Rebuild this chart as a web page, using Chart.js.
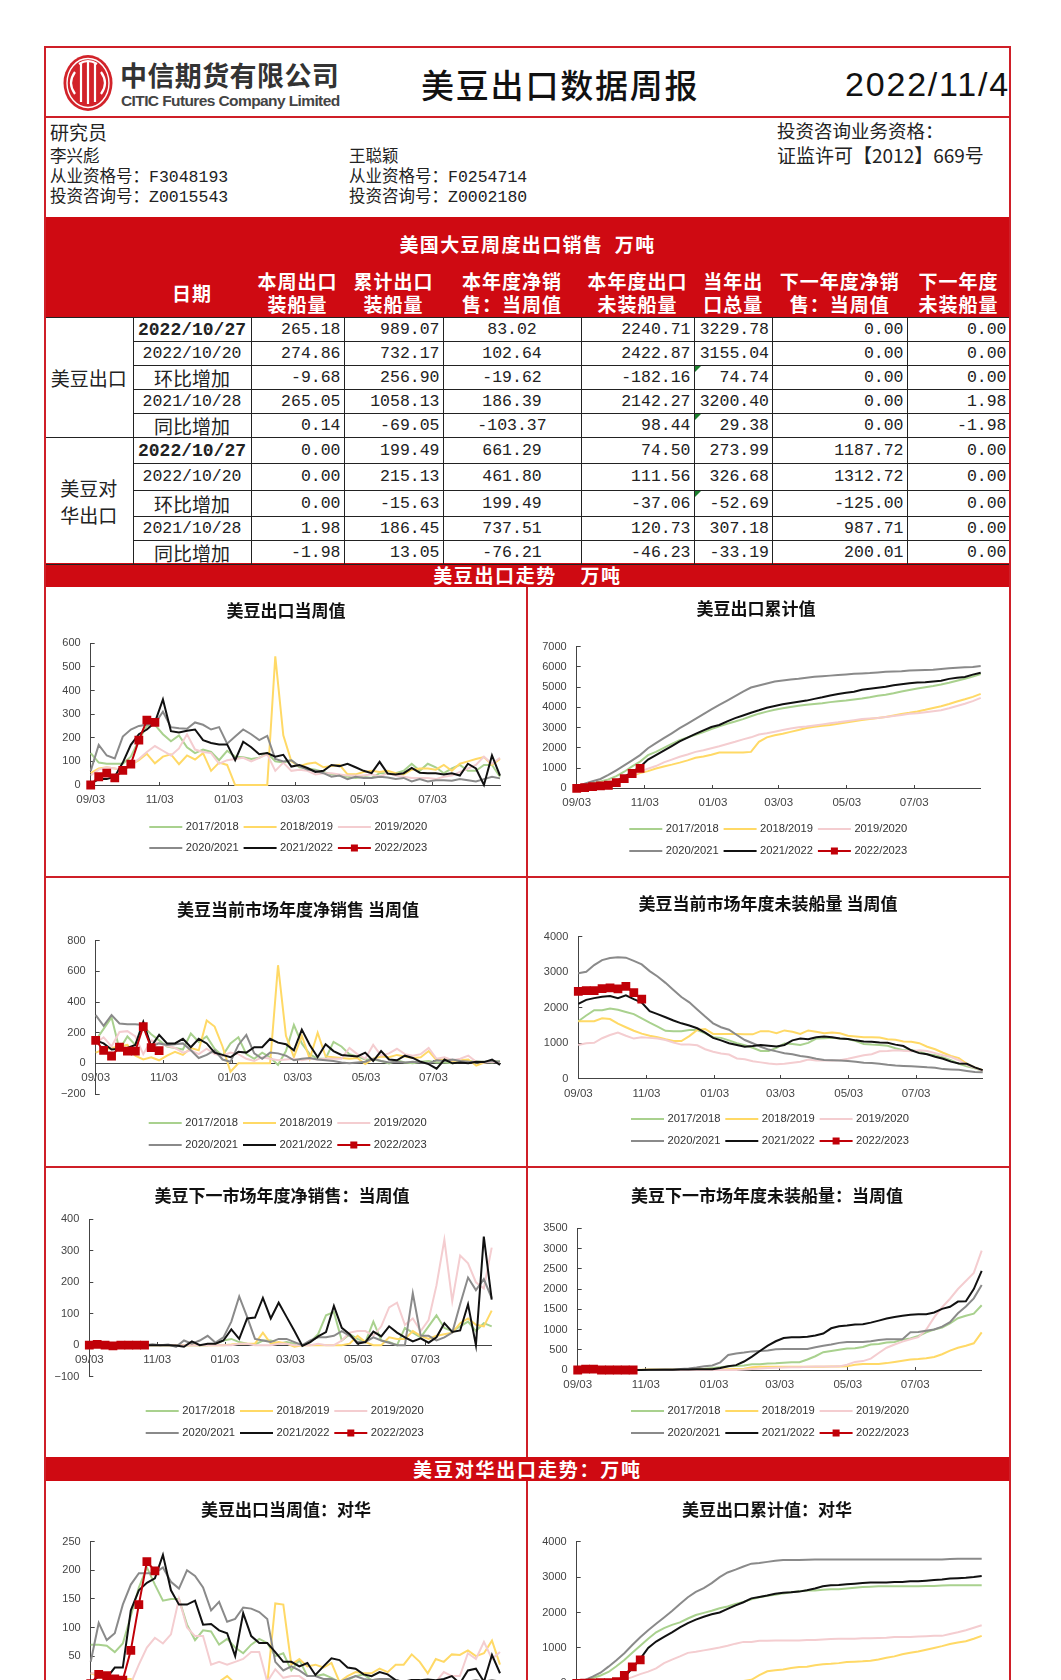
<!DOCTYPE html>
<html lang="zh">
<head>
<meta charset="utf-8">
<title>美豆出口数据周报</title>
<script src="https://cdn.jsdelivr.net/npm/chart.js@4/dist/chart.umd.min.js"></script>
<style>
  html, body { margin: 0; padding: 0; width: 1061px; height: 1680px; overflow: hidden; background: #fff; }
  body { position: relative; font-family: "Noto Sans CJK SC", sans-serif; color: #222; }
  .abs { position: absolute; white-space: pre; line-height: 1; }
  .vmid { transform: translateY(-50%); }
  .band { position: absolute; left: 44px; width: 967px; background: #cf0a12; color: #fff; font-weight: 700; text-align: center; white-space: pre; }
  .rule { position: absolute; background: #cf1f28; }
  canvas { position: absolute; }
  table { position: absolute; left: 45px; top: 317px; border-collapse: collapse; table-layout: fixed; width: 965px; }
  td { border: 1px solid #222; padding: 0 3px 0 0; text-align: right; font-family: "Liberation Mono", monospace; font-size: 16.5px; line-height: 18px; position: relative; overflow: hidden; }
  td.c { text-align: center; padding: 0; }
  td.date { text-align: center; padding: 0; white-space: nowrap; }
  td.date.bold { font-weight: 700; font-size: 18px; }
  td.zh { font-family: "Noto Sans CJK SC", sans-serif; font-size: 19px; text-align: center; padding: 0; }
  td.name { line-height: 27px; border-left: 0; }
  td.flag::before { content: ""; position: absolute; left: 0; top: 0; border-top: 6px solid #1a7f2c; border-right: 6px solid transparent; }
  .hcell { position: absolute; color: #fff; font-weight: 700; font-size: 19px; text-align: center; line-height: 23px; letter-spacing: 1px; white-space: pre; }
</style>
</head>
<body>
<script>
// ---------- Data: seasons and axis ----------
const seasons = ["2017/2018", "2018/2019", "2019/2020", "2020/2021", "2021/2022", "2022/2023"];
const seasonColors = ["#a9d18e", "#ffd966", "#f4cdd0", "#8a8a8a", "#111111", "#c00008"];
const monthTicks = [0, 8.6, 17.2, 25.5, 34.1, 42.6];
const monthLabels = ["09/03", "11/03", "01/03", "03/03", "05/03", "07/03"];

// 美豆出口当周值
const weekly1718 = [135,95,90,90,90,120,190,250,255,215, 185,210,160,135,150,140,105,145,120,118, 110,115,135,100,95,105,75,70,65,55, 45,40,35,30,35,30,50,50,50,60, 90,60,90,75,50,70,85,60,60,85,85,35];
const weekly1819 = [50,70,75,70,60,85,105,132,92,120, 130,88,125,108,135,60,95,85,0,0, 0,0,0,545,210,100,80,90,95,75, 80,85,45,45,55,60,55,60,50,45, 65,70,70,65,85,60,90,100,110,118,85,110];
const weekly1920 = [40,65,75,70,65,85,110,140,165,145, 125,155,215,150,140,135,90,105,110,115, 100,115,130,60,95,60,65,60,45,50, 50,45,40,40,40,45,35,50,40,35, 30,30,30,25,35,40,55,70,85,120,90,115];
const weekly2021 = [60,170,125,112,205,235,250,255,260,310, 245,240,238,265,255,235,245,175,205,235, 215,190,208,110,100,105,80,65,60,50, 35,40,25,35,30,30,35,32,25,30, 15,25,15,20,20,18,25,20,15,25,35,28];
const weekly2122 = [5,25,25,35,95,170,215,235,265,362, 228,222,230,235,190,178,172,172,105,183, 160,130,135,120,128,78,85,72,55,60, 85,80,90,75,60,50,98,48,45,50, 72,52,50,50,45,50,40,90,70,0,125,40];
const weekly2223 = [0,35,50,30,62,88,190,274.86,265.18];

// 美豆出口累计值
const cum1718 = [50,150,250,340,440,600,820,1080,1320,1640, 1800,2000,2200,2380,2520,2650,2780,2930,3060,3190, 3300,3420,3560,3690,3790,3880,3960,4020,4080,4130, 4170,4210,4260,4300,4340,4390,4440,4500,4570,4620, 4700,4790,4860,4930,5000,5060,5130,5220,5320,5420,5530,5650];
const cum1819 = [50,120,200,270,330,410,510,620,750,850, 980,1080,1170,1270,1380,1510,1570,1660,1770,1770, 1770,1770,1800,2300,2520,2620,2700,2790,2880,2980, 3040,3090,3130,3190,3250,3310,3370,3430,3480,3530, 3600,3670,3730,3800,3880,3970,4060,4170,4290,4400,4520,4670];
const cum1920 = [40,110,190,260,320,410,520,660,830,970, 1100,1280,1420,1560,1670,1800,1880,1980,2080,2190, 2300,2420,2520,2660,2720,2800,2880,2960,3020,3060, 3110,3160,3210,3260,3320,3370,3420,3450,3480,3520, 3570,3620,3680,3710,3760,3810,3860,3960,4070,4180,4310,4470];
const cum2021 = [60,230,350,460,660,890,1130,1380,1640,1980, 2230,2480,2720,2970,3200,3430,3670,3900,4120,4340, 4560,4780,4980,5080,5180,5280,5330,5380,5420,5470, 5510,5540,5570,5600,5630,5660,5680,5700,5730,5760, 5780,5790,5820,5840,5850,5860,5900,5930,5960,5980,6000,6050];
const cum2122 = [5,30,60,100,190,350,560,800,1058,1420, 1640,1860,2090,2320,2510,2690,2860,3030,3130,3310, 3470,3600,3735,3855,3985,4065,4150,4220,4275,4335, 4420,4500,4590,4665,4725,4775,4875,4925,4970,5015, 5090,5140,5190,5225,5240,5280,5320,5410,5470,5500,5620,5710];
const cum2223 = [0,30,80,120,150,280,480,732.17,989.07];

// 美豆当前市场年度净销售 当周值
const net1718 = [150,225,300,90,175,120,240,190,150,110, 100,90,195,140,175,95,50,130,170,60, 30,70,40,-10,80,250,130,60,30,30, 140,110,60,45,25,25,15,0,20,5, 0,10,15,5,5,0,10,15,10,10,5,15];
const net1819 = [70,90,100,110,120,50,25,40,20,50, 75,55,100,85,280,240,110,-55,0,0, 0,0,0,640,180,40,180,30,200,45, 40,35,30,35,-5,30,45,40,55,45, 35,40,80,20,25,15,20,25,-15,5,15,5];
const net1920 = [130,170,110,205,210,175,60,150,130,115, 100,70,85,60,95,60,50,70,60,30, 15,40,30,20,25,30,20,30,25,30, 30,30,100,60,30,120,50,65,95,60, 50,60,100,30,40,20,30,50,10,5,10,5];
const net2021 = [315,245,315,260,255,255,250,110,130,120, 125,130,85,35,55,85,25,10,120,185, 65,30,70,65,50,20,30,35,25,20, 15,5,0,5,10,30,15,5,10,5, 10,5,0,20,15,25,15,10,5,10,15,10];
const net2122 = [150,130,90,95,100,120,270,110,186,130, 130,160,105,160,130,70,55,40,75,70, 105,105,160,135,125,85,220,120,40,125, 80,55,50,45,70,15,80,25,20,50, 35,10,-5,-35,25,0,5,0,10,8,25,-10];
const net2223 = [150,85,48,105,80,80,240,102.64,83.02];

// 美豆当前市场年度未装船量 当周值
const open1718 = [1620,1780,1930,1930,1980,1940,1880,1820,1700,1580, 1470,1350,1340,1340,1370,1370,1280,1170,1150,1080, 1000,940,870,780,780,870,990,980,950,1010, 1130,1140,1150,1130,1120,1060,980,960,950,930, 860,800,800,770,690,660,600,520,420,350,290,220];
const open1819 = [1620,1620,1620,1700,1680,1550,1450,1350,1270,1210, 1170,1110,1060,1060,1200,1370,1400,1260,1260,1260, 1260,1250,1250,1340,1340,1280,1360,1320,1260,1360, 1320,1280,1300,1280,1210,1190,1170,1170,1160,1110, 1100,1050,1040,1000,900,830,730,640,580,420,320,240];
const open1920 = [950,1000,1010,1140,1230,1300,1210,1130,1170,1150, 1130,1090,1020,960,960,940,830,760,710,680, 570,550,490,460,430,410,420,450,480,540, 510,510,510,520,560,610,660,690,770,780, 800,790,770,800,780,720,660,610,520,390,310,220];
const open2021 = [2970,3010,3200,3340,3400,3420,3410,3320,3220,3030, 2880,2700,2500,2300,2150,1950,1750,1560,1450,1380, 1230,1090,1000,900,820,770,720,690,640,610, 560,530,520,510,500,480,450,440,420,390, 370,360,350,340,320,310,270,260,250,220,190,180];
const open2122 = [2110,2220,2270,2310,2330,2270,2350,2240,2142,1900, 1820,1730,1640,1560,1500,1420,1300,1150,1080,1000, 950,900,920,950,930,910,950,1080,1130,1110, 1170,1190,1170,1130,1120,1080,1050,1040,1020,1010, 960,920,800,720,690,620,560,480,430,420,320,240];
const open2223 = [2460,2480,2480,2540,2560,2530,2600,2422.87,2240.71];

// 美豆下一市场年度净销售：当周值
const nextNet1718 = [0,0,0,0,0,0,0,0,0,0, 0,0,0,0,0,0,5,15,20,10, 5,2,15,15,5,10,5,0,10,35, 95,105,15,35,20,10,75,15,10,0, 55,40,25,60,95,55,45,60,75,45,70,60];
const nextNet1819 = [0,0,0,0,0,0,0,0,0,0, 0,0,0,0,0,0,0,0,2,5, 5,5,40,5,10,5,-5,0,0,0, 0,0,0,5,30,10,0,0,25,20, 20,45,30,20,30,35,40,70,85,65,60,110];
const nextNet1920 = [0,0,0,0,0,0,0,0,0,0, 0,0,0,0,0,0,0,0,0,5, 5,0,0,0,5,5,0,0,0,5, 0,0,15,40,45,45,30,60,120,135, 65,85,45,80,190,335,140,285,260,200,180,310];
const nextNet2021 = [0,0,0,0,0,0,0,0,3,0, 2,-5,15,5,15,30,8,25,75,155, 90,20,15,10,20,20,10,0,15,25, 25,30,45,30,10,10,25,15,8,0, 0,165,30,30,15,25,40,130,215,175,210,150];
const nextNet2122 = [0,0,0,0,0,0,0,0,0,0, 0,-1,-5,12,0,5,5,15,50,20, 85,88,150,85,135,90,45,-2,10,28, 42,125,55,35,5,10,43,28,60,40, 25,12,22,8,25,70,42,47,130,0,345,145];
const nextNet2223 = [0,3,0,-2,0,0,0,0];

// 美豆下一市场年度未装船量：当周值
const nextOpen1718 = [0,0,0,0,0,0,0,0,0,0, 0,0,0,5,10,15,30,50,70,90, 100,110,140,140,160,165,180,190,190,260, 340,440,470,500,530,540,570,630,640,680, 690,750,780,840,930,1000,1050,1150,1280,1340,1390,1600];
const nextOpen1819 = [0,0,0,0,0,0,0,0,5,10, 10,10,10,10,10,15,15,15,15,20, 25,30,70,80,80,80,80,80,80,80, 80,80,85,85,90,130,150,150,150,170, 200,230,260,270,290,320,390,480,550,600,660,930];
const nextOpen1920 = [0,0,0,0,0,0,0,0,0,0, 0,0,0,0,0,0,0,0,0,0, 0,10,25,40,50,55,60,65,70,80, 85,85,85,90,130,200,220,280,420,550, 630,700,760,810,1000,1300,1550,1760,2000,2200,2400,2950];
const nextOpen2021 = [0,0,0,0,0,0,0,0,0,3, 5,10,15,25,35,60,90,110,190,370, 410,430,460,470,480,510,520,520,520,520, 560,600,630,670,690,690,690,710,740,760, 760,760,930,940,970,1000,1070,1180,1400,1570,1770,2100];
const nextOpen2122 = [0,0,0,0,0,0,0,0,2,5, 5,5,5,10,15,20,20,20,50,90, 120,210,330,470,600,710,790,810,810,820, 850,900,1030,1080,1100,1125,1130,1170,1220,1270, 1310,1340,1365,1380,1380,1420,1510,1560,1690,1700,2000,2450];
const nextOpen2223 = [0,20,20,0,0,0,0,0];

// 美豆出口当周值：对华
const cnWeekly1718 = [70,70,68,57,72,120,170,205,175,147, 150,150,105,78,95,93,70,80,65,55, 70,80,73,50,55,25,43,15,15,18, 12,5,8,15,18,8,10,10,5,3, 2,2,2,2,3,3,3,3,3,3,3,3];
const cnWeekly1819 = [20,15,10,5,10,10,0,0,0,0, 0,0,0,0,0,0,5,15,2,0, 0,0,0,142,140,35,45,32,35,30, 38,5,15,22,20,20,28,22,35,35, 53,40,20,45,40,53,52,60,50,55,77,35];
const cnWeekly1920 = [20,20,15,10,3,2,35,65,82,72, 88,150,100,85,85,35,40,35,40,45, 57,57,5,27,12,15,15,5,3,3, 3,5,5,8,3,8,10,8,5,3, 8,5,3,5,22,15,15,55,45,75,45,57];
const cnWeekly2021 = [40,108,78,90,140,175,195,195,195,205, 180,168,200,190,170,130,145,110,115,135, 133,127,115,40,25,32,25,15,15,10, 10,5,10,15,10,8,10,10,8,5, 3,2,2,2,2,2,5,5,8,5,8,5];
const cnWeekly2122 = [2,15,12,30,30,130,165,178,186,227, 165,140,140,147,105,106,95,90,50,125, 85,73,73,57,40,40,32,38,17,32, 46,43,30,28,18,15,22,18,8,5, 8,8,9,8,10,15,2,25,28,5,52,20];
const cnWeekly2223 = [2,18,16,10,8,60,140,215,199];

// 美豆出口累计值：对华
const cnCum1718 = [10,80,150,220,320,480,660,860,1060,1260, 1440,1560,1650,1720,1830,1930,1990,2050,2120,2170, 2240,2300,2370,2430,2470,2500,2540,2570,2600,2620, 2620,2640,2660,2660,2680,2700,2720,2730,2740,2740, 2740,2740,2740,2740,2750,2750,2760,2770,2770,2770,2770,2770];
const cnCum1819 = [15,30,40,45,50,55,55,55,55,55, 60,60,60,60,60,60,60,65,65,65, 65,65,100,230,340,370,390,430,460,470, 510,540,550,570,600,610,620,640,670,720, 760,820,860,900,950,1000,1050,1110,1150,1190,1260,1340];
const cnCum1920 = [20,40,55,65,70,75,110,175,260,330, 420,570,670,760,860,890,930,970,1010,1060, 1120,1170,1170,1200,1200,1210,1210,1210,1210,1220, 1220,1240,1250,1260,1260,1260,1270,1270,1280,1290, 1310,1310,1310,1320,1330,1340,1340,1390,1440,1500,1570,1640];
const cnCum2021 = [10,90,190,300,470,650,850,1080,1300,1500, 1680,1860,2040,2240,2430,2580,2690,2830,3000,3130, 3210,3300,3380,3400,3430,3460,3480,3480,3480,3490, 3500,3500,3500,3500,3500,3500,3500,3500,3500,3500, 3500,3500,3500,3500,3500,3500,3500,3510,3520,3520,3520,3520];
const cnCum2122 = [5,10,15,25,30,45,180,420,690,1000, 1180,1310,1440,1580,1700,1800,1880,1950,2000,2100, 2200,2290,2400,2440,2480,2530,2560,2570,2590,2630, 2680,2740,2770,2780,2800,2815,2830,2845,2850,2850, 2860,2860,2880,2880,2900,2920,2930,2960,2970,2980,3000,3030];
const cnCum2223 = [0,5,10,15,20,50,220,461.8,661.29];

// ---------- Data: weekly table ----------
const tableRowLabels = ["2022/10/27", "2022/10/20", "环比增加", "2021/10/28", "同比增加"];
const usaRows = [
  ["265.18", "989.07", "83.02", "2240.71", "3229.78", "0.00", "0.00"],
  ["274.86", "732.17", "102.64", "2422.87", "3155.04", "0.00", "0.00"],
  ["-9.68", "256.90", "-19.62", "-182.16", "74.74", "0.00", "0.00"],
  ["265.05", "1058.13", "186.39", "2142.27", "3200.40", "0.00", "1.98"],
  ["0.14", "-69.05", "-103.37", "98.44", "29.38", "0.00", "-1.98"],
];
const chinaRows = [
  ["0.00", "199.49", "661.29", "74.50", "273.99", "1187.72", "0.00"],
  ["0.00", "215.13", "461.80", "111.56", "326.68", "1312.72", "0.00"],
  ["0.00", "-15.63", "199.49", "-37.06", "-52.69", "-125.00", "0.00"],
  ["1.98", "186.45", "737.51", "120.73", "307.18", "987.71", "0.00"],
  ["-1.98", "13.05", "-76.21", "-46.23", "-33.19", "200.01", "0.00"],
];
const tableHeads = ["日期", "本周出口\n装船量", "累计出口\n装船量", "本年度净销\n售：当周值", "本年度出口\n未装船量", "当年出\n口总量", "下一年度净销\n售：当周值", "下一年度\n未装船量"];

// ---------- Page furniture ----------
function put(text, x, y, css, cls = "abs vmid") {
  const el = document.createElement("div");
  el.className = cls;
  el.textContent = text;
  el.style.cssText = `left:${x}px;top:${y}px;${css}`;
  document.body.appendChild(el);
  return el;
}
function rule(x, y, w, h) {
  const el = document.createElement("div");
  el.className = "rule";
  el.style.cssText = `left:${x}px;top:${y}px;width:${w}px;height:${h}px`;
  document.body.appendChild(el);
}
function band(text, top, height, css) {
  const el = document.createElement("div");
  el.className = "band";
  el.textContent = text;
  el.style.cssText = `top:${top}px;height:${height}px;line-height:${height}px;${css}`;
  document.body.appendChild(el);
}

rule(44, 46, 967, 2);     // top of the frame
rule(44, 116, 967, 2);    // under the header
rule(526, 587, 2, 870);
rule(526, 1481, 2, 200);
rule(44, 876, 967, 2);
rule(44, 1166, 967, 2);

// logo
document.body.insertAdjacentHTML("beforeend", `
<svg style="position:absolute;left:62px;top:54px" width="54" height="58" viewBox="0 0 54 58">
  <ellipse cx="26" cy="29" rx="24.5" ry="28" fill="#d2232a"/>
  <ellipse cx="26" cy="29" rx="21" ry="24.5" fill="none" stroke="#fff" stroke-width="1.4"/>
  <g fill="none" stroke="#fff" stroke-width="2.2">
    <path d="M13 18 Q5 29 13 40"/><path d="M19 10 V48"/><path d="M26 8 V50"/><path d="M33 10 V48"/><path d="M39 18 Q47 29 39 40"/>
    <path d="M17 10 Q26 4 35 10"/>
  </g>
</svg>`);
put("中信期货有限公司", 120, 74, "font-size:27px;font-weight:700;color:#333;letter-spacing:.4px");
put("CITIC Futures Company Limited", 121, 101, "font:700 15.5px 'Liberation Sans';color:#444;letter-spacing:-.6px");
put("美豆出口数据周报", 421, 84, "font-size:33px;font-weight:500;color:#111;letter-spacing:1.8px");
put("2022/11/4", 845, 84, "font:34px 'Liberation Sans';color:#111;letter-spacing:1.8px");

put("研究员", 50, 131, "font-size:19px");
put("李兴彪", 50, 155, "font-size:16.5px");
put("从业资格号：F3048193", 50, 175, "font:16.5px 'Liberation Mono','Noto Sans CJK SC'");
put("投资咨询号：Z0015543", 50, 195, "font:16.5px 'Liberation Mono','Noto Sans CJK SC'");
put("王聪颖", 349, 155, "font-size:16.5px");
put("从业资格号：F0254714", 349, 175, "font:16.5px 'Liberation Mono','Noto Sans CJK SC'");
put("投资咨询号：Z0002180", 349, 195, "font:16.5px 'Liberation Mono','Noto Sans CJK SC'");
put("投资咨询业务资格：", 777, 130, "font-size:18.5px");
put("证监许可【2012】669号", 777, 154, "font-size:19px");

// red bands
band("美国大豆周度出口销售  万吨", 217, 100, "line-height:54px;font-size:19px;letter-spacing:1.4px");
band("美豆出口走势    万吨", 563, 24, "font-size:19px;letter-spacing:1.6px");
band("美豆对华出口走势：万吨", 1457, 24, "font-size:19px;letter-spacing:1.8px");

// ---------- Table ----------
const colEdges = [45, 133, 251, 344, 443, 581, 694, 772.5, 907, 1010];
const rowEdges = [317, 341, 365, 389, 413, 437, 463, 490, 516, 540, 564];

tableHeads.forEach((h, i) => {
  const el = put(h, colEdges[i + 1], 269, `width:${colEdges[i + 2] - colEdges[i + 1]}px;`, "hcell");
  if (!h.includes("\n")) el.style.top = "281px";
});

function tableHtml() {
  const cols = colEdges.slice(1).map((x, i) => `<col style="width:${x - colEdges[i]}px">`).join("");
  let html = `<colgroup>${cols}</colgroup>`;
  const addBlock = (name, rows, start) => {
    rows.forEach((row, r) => {
      const height = rowEdges[start + r + 1] - rowEdges[start + r];
      const label = tableRowLabels[r];
      const isDate = label.includes("/");
      html += `<tr style="height:${height}px">`;
      if (r === 0) html += `<td class="zh name" rowspan="5">${name}</td>`;
      html += isDate ? `<td class="date${r === 0 ? " bold" : ""}">${label}</td>` : `<td class="zh">${label}</td>`;
      row.forEach((v, c) => {
        const flag = c === 4 && (r === 2 || (r === 4 && start === 0)) ? " flag" : "";
        html += `<td class="${c === 2 ? "c" : ""}${flag}">${v}</td>`;
      });
      html += "</tr>";
    });
  };
  addBlock("美豆出口", usaRows, 0);
  addBlock("美豆对<br>华出口", chinaRows, 5);
  return html;
}
const table = document.createElement("table");
table.innerHTML = tableHtml();
document.body.appendChild(table);

// frame sides go over the table ends
rule(44, 46, 2, 1640);
rule(1009, 46, 2, 1640);

// ---------- Charts ----------
// draws the two-row season legend; Chart.js' own legend can't be forced to 3 per row here
const seasonLegend = {
  id: "seasonLegend",
  beforeDraw(chart) {
    // titles are off-centre from the plots: centre on the canvas, which is placed on the title
    chart.titleBlock.left = 0;
    chart.titleBlock.right = chart.width;
  },
  afterDraw(chart, args, opts) {
    const ctx = chart.ctx;
    ctx.save();
    ctx.font = "11.2px 'Liberation Sans'";
    ctx.textBaseline = "middle";
    chart.data.datasets.forEach((ds, i) => {
      const x = opts.x + (i % 3) * 94.3;
      const y = opts.rows[i < 3 ? 0 : 1];
      ctx.strokeStyle = ds.borderColor;
      ctx.lineWidth = ds.borderWidth;
      ctx.beginPath();
      ctx.moveTo(x, y);
      ctx.lineTo(x + 33, y);
      ctx.stroke();
      if (ds.pointRadius > 0) {
        ctx.fillStyle = ds.borderColor;
        ctx.fillRect(x + 13, y - 3.5, 7, 7);
      }
      ctx.fillStyle = "#333";
      ctx.fillText(seasons[i], x + 36.5, y);
    });
    ctx.restore();
  },
};

const CANVAS_W = 500;
const Y_BOX = 40;
const panels = [
  { title: "美豆出口当周值", series: [weekly1718, weekly1819, weekly1920, weekly2021, weekly2122, weekly2223], min: 0, max: 600, step: 100, l: 90.7, r: 500, t: 643.3, b: 785, titleX: 286, titleY: 611, legendX: 149.3, legendRows: [827, 848] },
  { title: "美豆出口累计值", series: [cum1718, cum1819, cum1920, cum2021, cum2122, cum2223], min: 0, max: 7000, step: 1000, l: 576.7, r: 980.7, t: 646.7, b: 788.3, titleX: 756, titleY: 609, legendX: 629.3, legendRows: [829, 851] },
  { title: "美豆当前市场年度净销售 当周值", series: [net1718, net1819, net1920, net2021, net2122, net2223], min: -200, max: 800, step: 200, l: 95.7, r: 500, t: 940.7, b: 1094, titleX: 298, titleY: 910, legendX: 148.7, legendRows: [1123, 1145] },
  { title: "美豆当前市场年度未装船量 当周值", series: [open1718, open1819, open1920, open2021, open2122, open2223], min: 0, max: 4000, step: 1000, l: 578.3, r: 982.7, t: 936.7, b: 1078.7, titleX: 768, titleY: 904, legendX: 631, legendRows: [1119, 1141] },
  { title: "美豆下一市场年度净销售：当周值", series: [nextNet1718, nextNet1819, nextNet1920, nextNet2021, nextNet2122, nextNet2223], min: -100, max: 400, step: 100, l: 89.3, r: 491.7, t: 1219.3, b: 1376.7, titleX: 282, titleY: 1196, legendX: 145.7, legendRows: [1411, 1433] },
  { title: "美豆下一市场年度未装船量：当周值", series: [nextOpen1718, nextOpen1819, nextOpen1920, nextOpen2021, nextOpen2122, nextOpen2223], min: 0, max: 3500, step: 500, l: 577.7, r: 981.7, t: 1228.3, b: 1370, titleX: 767, titleY: 1196, legendX: 631, legendRows: [1411, 1433] },
  { title: "美豆出口当周值：对华", series: [cnWeekly1718, cnWeekly1819, cnWeekly1920, cnWeekly2021, cnWeekly2122, cnWeekly2223], min: 0, max: 250, step: 50, l: 90.7, r: 500, t: 1541.7, b: 1684.7, titleX: 286, titleY: 1510, legendX: 149.3, legendRows: [1726, 1748] },
  { title: "美豆出口累计值：对华", series: [cnCum1718, cnCum1819, cnCum1920, cnCum2021, cnCum2122, cnCum2223], min: 0, max: 4000, step: 1000, l: 576.7, r: 981.7, t: 1541.7, b: 1683.3, titleX: 767, titleY: 1510, legendX: 629.3, legendRows: [1726, 1748] },
];

function drawPanel(p) {
  const left = Math.round(p.titleX - CANVAS_W / 2);
  const top = Math.round(p.titleY - 30);
  const height = Math.round(p.legendRows[1] + 16 - top);
  const canvas = document.createElement("canvas");
  canvas.width = CANVAS_W;
  canvas.height = height;
  canvas.style.cssText = `left:${left}px;top:${top}px;width:${CANVAS_W}px;height:${height}px`;
  document.body.appendChild(canvas);

  const titleSize = 17;
  const lineH = titleSize * 1.2;
  const titleTop = 30 - lineH / 2;
  const datasets = p.series.map((vals, i) => ({
    label: seasons[i],
    data: vals.map((y, x) => ({ x, y })),
    borderColor: seasonColors[i],
    backgroundColor: seasonColors[i],
    borderWidth: 2,
    pointRadius: i === 5 ? 4.8 : 0,
    pointStyle: "rect",
    tension: 0,
    clip: false,
    order: 6 - i,
  }));

  new Chart(canvas, {
    type: "line",
    data: { datasets },
    plugins: [seasonLegend],
    options: {
      responsive: false,
      animation: false,
      events: [],
      layout: {
        autoPadding: false,
        padding: { left: p.l - left - Y_BOX, right: left + CANVAS_W - p.r, top: 0, bottom: top + height - p.b },
      },
      plugins: {
        legend: { display: false },
        tooltip: { enabled: false },
        title: {
          display: true,
          text: p.title,
          color: "#111",
          font: { family: "'Noto Sans CJK SC'", size: titleSize, weight: "bold" },
          padding: { top: titleTop, bottom: p.t - top - titleTop - lineH },
        },
        seasonLegend: { x: p.legendX - left, rows: p.legendRows.map((y) => y - top) },
      },
      scales: {
        x: {
          type: "linear",
          position: { y: 0 },
          min: 0,
          max: 51,
          afterBuildTicks: (s) => { s.ticks = monthTicks.map((value) => ({ value })); },
          afterFit: (s) => { s.height = 0; s.paddingLeft = 0; s.paddingRight = 0; },
          border: { color: "#444", width: 1 },
          grid: { drawOnChartArea: false, tickLength: -4, tickColor: "#444" },
          ticks: {
            autoSkip: false,
            maxRotation: 0,
            padding: 12,
            color: "#444",
            font: { family: "'Liberation Sans'", size: 11.5 },
            callback: (v, i) => monthLabels[i],
          },
        },
        y: {
          min: p.min,
          max: p.max,
          afterFit: (s) => { s.width = Y_BOX; s.paddingTop = 0; s.paddingBottom = 0; },
          border: { color: "#444", width: 1 },
          grid: { drawOnChartArea: false, tickLength: -4, tickColor: "#444" },
          ticks: {
            stepSize: p.step,
            padding: 14,
            color: "#444",
            font: { family: "'Liberation Sans'", size: 11 },
            callback: (v) => String(v).replace("-", "−"),
          },
        },
      },
    },
  });
}
panels.forEach(drawPanel);
</script>
</body>
</html>
